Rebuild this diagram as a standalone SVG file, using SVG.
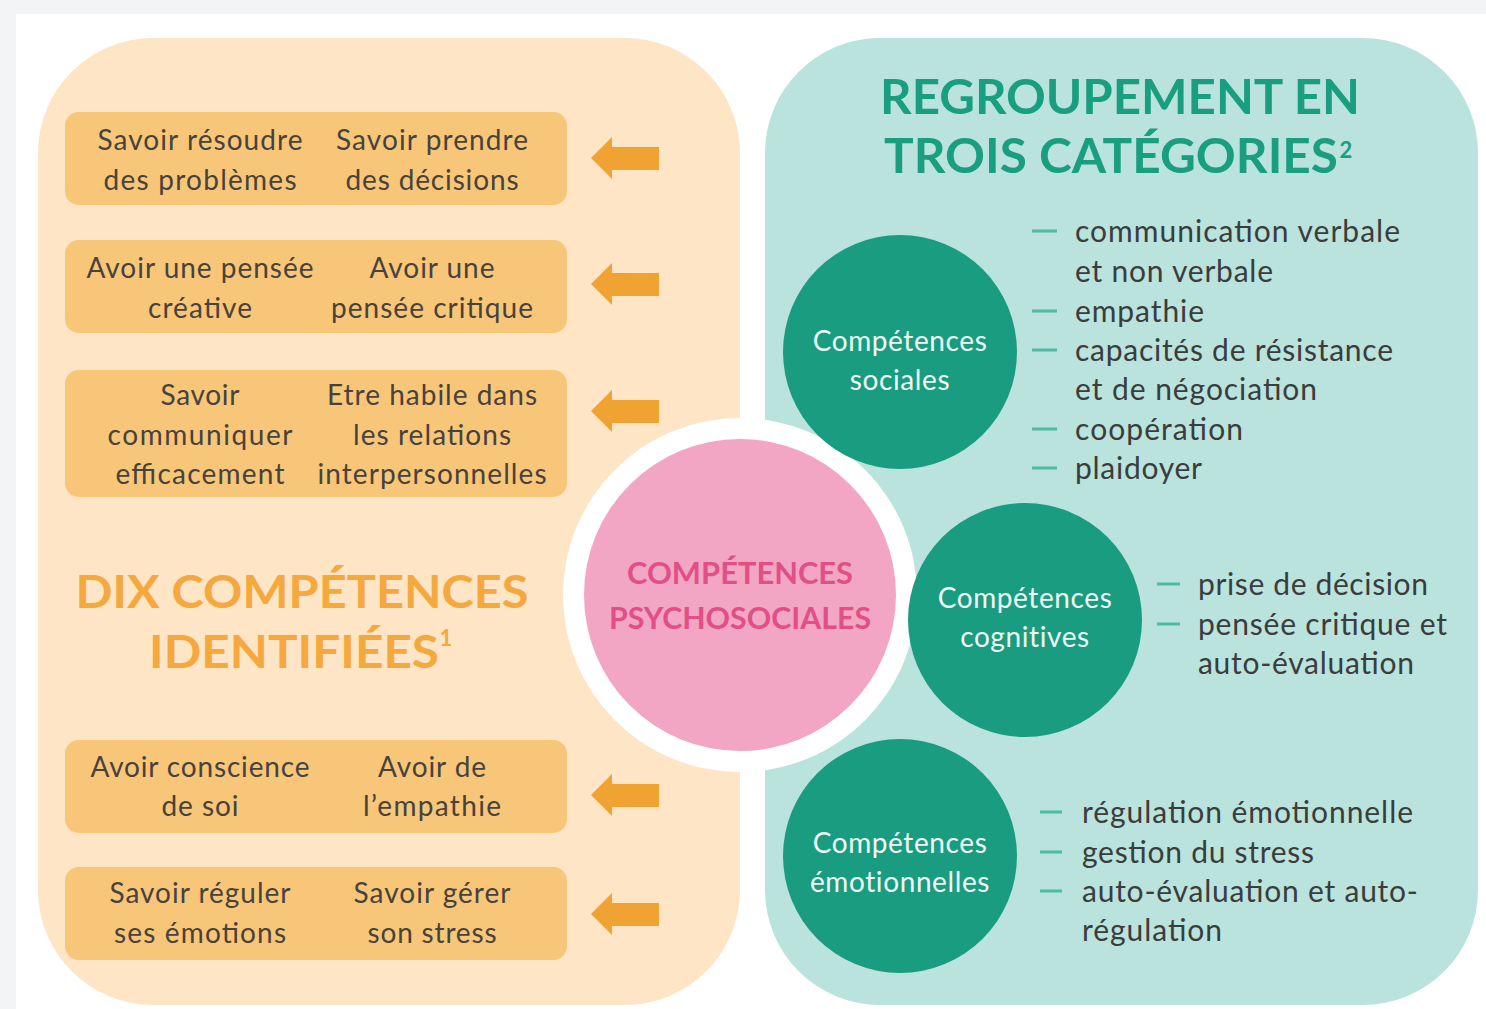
<svg xmlns="http://www.w3.org/2000/svg" width="1486" height="1009" viewBox="0 0 1486 1009">
<defs>
<style>
.lt{font-family:Lato,"Open Sans","Liberation Sans",sans-serif;font-size:28px;fill:#48423c;text-anchor:middle}
.box{fill:#f8c678}
.arr{fill:#f0a332}
.ttl-o{font-family:Lato,"Liberation Sans",sans-serif;font-weight:bold;font-size:46px;fill:#f5a83d;text-anchor:middle}
.ttl-g{font-family:Lato,"Liberation Sans",sans-serif;font-weight:bold;font-size:48px;fill:#1a9e80;text-anchor:middle}
.circ{fill:#1a9c80}
.ct{font-family:Lato,"Liberation Sans",sans-serif;font-size:28px;fill:#eef9f5;text-anchor:middle;letter-spacing:0.6px}
.li{font-family:Lato,"Liberation Sans",sans-serif;font-size:30px;fill:#3a3d3c}
.dash{stroke:#4dbba2;stroke-width:3}
.pk{font-family:Lato,"Liberation Sans",sans-serif;font-weight:bold;font-size:31px;fill:#e24f86;text-anchor:middle}
</style>
<path id="arrow" d="M0 0 L21 -21 L21 -11 L68 -11 L68 12 L21 12 L21 21 Z"/>
</defs>
<rect x="0" y="0" width="1486" height="1009" fill="#f3f4f6"/>
<rect x="16" y="14" width="1470" height="995" fill="#ffffff"/>

<g id="panel-left"><rect x="38" y="38" width="702" height="967" rx="115" fill="#fde5c6"/></g>
<g id="panel-right"><rect x="765" y="38" width="713" height="967" rx="115" fill="#b9e3dc"/></g>

<g id="box1">
<rect class="box" x="65" y="112" width="502" height="93" rx="14"/>
<text class="lt" x="200" y="150" textLength="205">Savoir résoudre</text>
<text class="lt" x="200" y="190" textLength="193">des problèmes</text>
<text class="lt" x="432" y="150" textLength="192">Savoir prendre</text>
<text class="lt" x="432" y="190" textLength="173">des décisions</text>
</g>
<g id="box2">
<rect class="box" x="65" y="240" width="502" height="93" rx="14"/>
<text class="lt" x="200" y="278" textLength="227">Avoir une pensée</text>
<text class="lt" x="200" y="318" textLength="104">créative</text>
<text class="lt" x="432" y="278" textLength="125">Avoir une</text>
<text class="lt" x="432" y="318" textLength="202">pensée critique</text>
</g>
<g id="box3">
<rect class="box" x="65" y="370" width="502" height="127" rx="14"/>
<text class="lt" x="200" y="405" textLength="79">Savoir</text>
<text class="lt" x="200" y="445" textLength="185">communiquer</text>
<text class="lt" x="200" y="484" textLength="169">efficacement</text>
<text class="lt" x="432" y="405" textLength="210">Etre habile dans</text>
<text class="lt" x="432" y="445" textLength="158">les relations</text>
<text class="lt" x="432" y="484" textLength="229">interpersonnelles</text>
</g>
<g id="box4">
<rect class="box" x="65" y="740" width="502" height="93" rx="14"/>
<text class="lt" x="200" y="777" textLength="219">Avoir conscience</text>
<text class="lt" x="200" y="816" textLength="77">de soi</text>
<text class="lt" x="432" y="777" textLength="108">Avoir de</text>
<text class="lt" x="432" y="816" textLength="138">l’empathie</text>
</g>
<g id="box5">
<rect class="box" x="65" y="867" width="502" height="93" rx="14"/>
<text class="lt" x="200" y="903" textLength="181">Savoir réguler</text>
<text class="lt" x="200" y="943" textLength="172">ses émotions</text>
<text class="lt" x="432" y="903" textLength="157">Savoir gérer</text>
<text class="lt" x="432" y="943" textLength="129">son stress</text>
</g>

<g id="connectors">
<use href="#arrow" class="arr" x="591" y="158"/>
<use href="#arrow" class="arr" x="591" y="284"/>
<use href="#arrow" class="arr" x="591" y="411"/>
<use href="#arrow" class="arr" x="591" y="795"/>
<use href="#arrow" class="arr" x="591" y="914"/>
</g>

<g id="title-left">
<text class="ttl-o" x="302" y="608" textLength="453" lengthAdjust="spacingAndGlyphs">DIX COMPÉTENCES</text>
<text class="ttl-o" x="294" y="668" textLength="290" lengthAdjust="spacingAndGlyphs">IDENTIFIÉES</text>
<text class="ttl-o" x="446" y="646" style="font-size:22px">1</text>
</g>

<g id="title-right">
<text class="ttl-g" x="1120" y="114" textLength="480" lengthAdjust="spacingAndGlyphs">REGROUPEMENT EN</text>
<text class="ttl-g" x="1111" y="173" textLength="454" lengthAdjust="spacingAndGlyphs">TROIS CATÉGORIES</text>
<text class="ttl-g" x="1346" y="158" style="font-size:22px">2</text>
</g>

<g id="center">
<circle cx="740" cy="595" r="177" fill="#ffffff"/>
<circle cx="740" cy="595" r="156" fill="#f2a6c4"/>
<text class="pk" x="740" y="584" textLength="226" lengthAdjust="spacingAndGlyphs">COMPÉTENCES</text>
<text class="pk" x="740" y="629" textLength="262" lengthAdjust="spacingAndGlyphs">PSYCHOSOCIALES</text>
</g>

<g id="sociales">
<circle class="circ" cx="900" cy="352" r="117"/>
<text class="ct" x="900" y="351">Compétences</text>
<text class="ct" x="900" y="390">sociales</text>
<line class="dash" x1="1032" y1="231" x2="1057" y2="231"/>
<line class="dash" x1="1032" y1="311" x2="1057" y2="311"/>
<line class="dash" x1="1032" y1="350" x2="1057" y2="350"/>
<line class="dash" x1="1032" y1="429" x2="1057" y2="429"/>
<line class="dash" x1="1032" y1="468" x2="1057" y2="468"/>
<text class="li" x="1075" y="242" textLength="325">communication verbale</text>
<text class="li" x="1075" y="282" textLength="198">et non verbale</text>
<text class="li" x="1075" y="322" textLength="129">empathie</text>
<text class="li" x="1075" y="361" textLength="318">capacités de résistance</text>
<text class="li" x="1075" y="400" textLength="242">et de négociation</text>
<text class="li" x="1075" y="440" textLength="168">coopération</text>
<text class="li" x="1075" y="479" textLength="127">plaidoyer</text>
</g>

<g id="cognitives">
<circle class="circ" cx="1025" cy="620" r="117"/>
<text class="ct" x="1025" y="608">Compétences</text>
<text class="ct" x="1025" y="647">cognitives</text>
<line class="dash" x1="1157" y1="584" x2="1180" y2="584"/>
<line class="dash" x1="1157" y1="624" x2="1180" y2="624"/>
<text class="li" x="1198" y="595" textLength="230">prise de décision</text>
<text class="li" x="1198" y="635" textLength="249">pensée critique et</text>
<text class="li" x="1198" y="674" textLength="216">auto-évaluation</text>
</g>

<g id="emotionnelles">
<circle class="circ" cx="900" cy="856" r="117"/>
<text class="ct" x="900" y="853">Compétences</text>
<text class="ct" x="900" y="892">émotionnelles</text>
<line class="dash" x1="1040" y1="812" x2="1062" y2="812"/>
<line class="dash" x1="1040" y1="852" x2="1062" y2="852"/>
<line class="dash" x1="1040" y1="891" x2="1062" y2="891"/>
<text class="li" x="1082" y="823" textLength="331">régulation émotionnelle</text>
<text class="li" x="1082" y="863" textLength="232">gestion du stress</text>
<text class="li" x="1082" y="902" textLength="336">auto-évaluation et auto-</text>
<text class="li" x="1082" y="941" textLength="140">régulation</text>
</g>
</svg>
